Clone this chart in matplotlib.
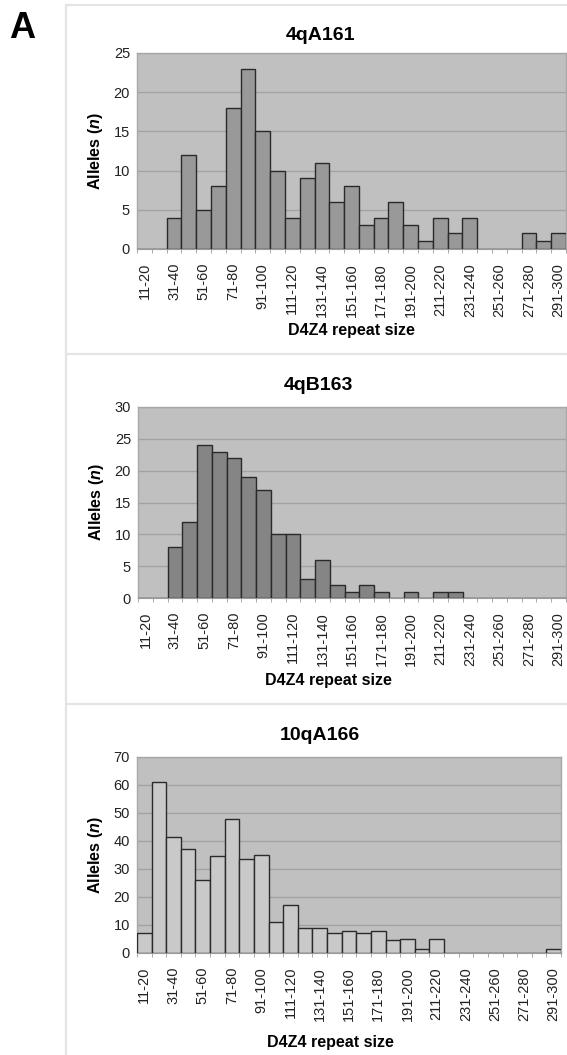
import matplotlib
matplotlib.use("Agg")
import matplotlib.pyplot as plt
from matplotlib.lines import Line2D
import numpy as np

plt.rcParams['font.family'] = ['Liberation Sans', 'DejaVu Sans']
plt.rcParams['mathtext.fontset'] = 'custom'
plt.rcParams['mathtext.bfit'] = 'Liberation Sans:italic:bold'
plt.rcParams['mathtext.it'] = 'Liberation Sans:italic'
plt.rcParams['mathtext.bf'] = 'Liberation Sans:bold'

bins = ["11-20", "21-30", "31-40", "41-50", "51-60", "61-70", "71-80", "81-90",
        "91-100", "101-110", "111-120", "121-130", "131-140", "141-150", "151-160",
        "161-170", "171-180", "181-190", "191-200", "201-210", "211-220", "221-230",
        "231-240", "241-250", "251-260", "261-270", "271-280", "281-290", "291-300"]

titles = ["4qA161", "4qB163", "10qA166"]

vals_4qA161 = [0, 0, 4, 12, 5, 8, 18, 23, 15, 10, 4, 9, 11, 6, 8, 3, 4, 6, 3, 1,
               4, 2, 4, 0, 0, 0, 2, 1, 2]
vals_4qB163 = [0, 0, 8, 12, 24, 23, 22, 19, 17, 10, 10, 3, 6, 2, 1, 2, 1, 0, 1, 0,
               1, 1, 0, 0, 0, 0, 0, 0, 0]
vals_10qA166 = [7, 61, 41.5, 37, 26, 34.5, 48, 33.5, 35, 11, 17, 9, 9, 7, 8, 7, 8,
                4.5, 5, 1.3, 5, 0, 0, 0, 0, 0, 0, 0, 1.5]

ymax = [25, 30, 70]
ystep = [5, 5, 10]
bar_colors = ["#999999", "#858585", "#c9c9c9"]

W, H = 567, 1055
fig = plt.figure(figsize=(W / 100, H / 100), dpi=100)

# panel frames
frame_c = "#e4e4e4"
for y0 in [5, 354, 704]:
    fig.add_artist(Line2D([66 / W, 1.0], [1 - y0 / H, 1 - y0 / H], color=frame_c, lw=1.6))
fig.add_artist(Line2D([66 / W, 66 / W], [1 - 5 / H, 0.0], color=frame_c, lw=1.6))

fig.text(22 / W, 1 - 29 / H, "A", fontsize=26, fontweight='bold', ha='center', va='center')

# axes boxes in pixels: left, top, right, bottom
boxes = [(137, 53, 566, 249), (138, 407, 566, 598), (137, 757, 561, 953)]
title_y = [35, 385, 735]
xlabel_y = [330, 681, 1043]
title_x = [320, 318, 320]
xlabel_x = [351, 328, 330]

series = [vals_4qA161, vals_4qB163, vals_10qA166]
x = np.arange(len(bins))
for i, vals in enumerate(series):
    l, t, r, b = boxes[i]
    ax = fig.add_axes([l / W, 1 - b / H, (r - l) / W, (b - t) / H])
    ax.set_facecolor("#c0c0c0")
    ax.set_axisbelow(True)
    ax.yaxis.grid(True, color="#a2a2a2", lw=1.0)
    ax.bar(x, vals, width=1.0, color=bar_colors[i], edgecolor="#2a2a2a", lw=1.0, zorder=3)
    ax.set_xlim(-0.5, len(bins) - 0.5)
    ax.set_ylim(0, ymax[i])
    ax.set_yticks(np.arange(0, ymax[i] + 1, ystep[i]))
    ax.set_xticks(x[::2])
    ax.set_xticklabels(bins[::2], rotation=90)
    ax.set_xticks(np.arange(-0.5, len(bins), 1.0), minor=True)
    ax.tick_params(axis='x', which='major', length=0, pad=10, labelsize=10.5, colors="#222222")
    ax.tick_params(axis='x', which='minor', length=3, color="#999999", direction='out')
    ax.tick_params(axis='y', length=0, pad=5, labelsize=10.5, colors="#222222")
    for s in ['top', 'right', 'left']:
        ax.spines[s].set_color("#a8a8a8")
        ax.spines[s].set_linewidth(1.0)
    ax.spines['bottom'].set_color("#9a9a9a")
    ax.set_ylabel(r"Alleles ($\mathbfit{n}$)", fontsize=11.5, fontweight='bold', labelpad=6)
    fig.text(title_x[i] / W, 1 - title_y[i] / H,
             titles[i], fontsize=14, fontweight='bold', ha='center', va='center')
    fig.text(xlabel_x[i] / W, 1 - xlabel_y[i] / H,
             "D4Z4 repeat size", fontsize=11.5, fontweight='bold', ha='center', va='center')

fig.savefig("out.png", dpi=100, facecolor="white")
